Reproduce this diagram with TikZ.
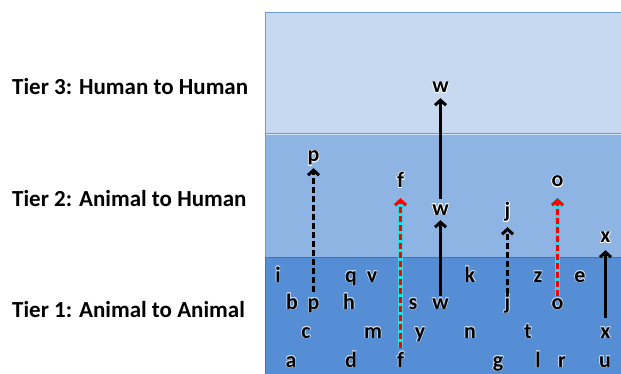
\documentclass[tikz,border=0pt]{standalone}
\usepackage{fontspec}
\setmainfont{Carlito}
\usepackage{contour}
\contourlength{0.6pt}
\usetikzlibrary{arrows.meta}
\definecolor{tierA}{HTML}{558ED5}
\definecolor{tierB}{HTML}{8EB4E3}
\definecolor{tierC}{HTML}{C6D9F1}
\definecolor{edgeA}{HTML}{3A72C4}
\definecolor{edgeB}{HTML}{6E9BDA}
\definecolor{glow}{HTML}{33D6E6}
\tikzset{
  lbl/.style={font=\bfseries\fontsize{22}{22}\selectfont, inner sep=0pt, text height=10.2pt, text depth=0pt, anchor=base},
  tiertxt/.style={font=\bfseries\fontsize{23}{23}\selectfont, inner sep=0pt, anchor=base west},
  tip/.style={-{Straight Barb[length=5pt,width=11pt]}},
  solidarr/.style={tip, line width=3pt, black},
  dasharr/.style={tip, line width=3pt, black, dash pattern=on 6pt off 3pt},
  glowarr/.style={tip, line width=5pt, glow},
  redarr/.style={tip, line width=3pt, red, dash pattern=on 6pt off 3pt},
}
\newcommand{\ltr}[1]{\contour{white!65!tierA}{#1}}
\newcommand{\ltrhi}[1]{\contour{white}{#1}}
\begin{document}
\begin{tikzpicture}[x=1pt,y=-1pt]
\useasboundingbox (0,0) rectangle (621,374);
\fill[white] (0,0) rectangle (621,374);
% bands
\filldraw[fill=tierC, draw=edgeB, line width=0.8pt] (265.5,12) rectangle (625,133);
\filldraw[fill=tierB, draw=edgeB, line width=0.8pt] (265.5,133) rectangle (625,257);
\filldraw[fill=tierA, draw=edgeA, line width=0.8pt] (265.5,257) rectangle (625,378);
\draw[white!60!tierB, line width=0.8pt] (266,134.2) -- (625,134.2);
% tier titles
\node[tiertxt] (t3) at (12,95) {Tier 3: Human to Human};
\node[tiertxt] (t2) at (12,207) {Tier 2: Animal to Human};
\node[tiertxt] (t1) at (12,317) {Tier 1: Animal to Animal};
% tier 3
\node[lbl] (w3) at (440.5,93) {\ltrhi{w}};
% tier 2
\node[lbl] (p2) at (313.5,162) {\ltrhi{p}};
\node[lbl] (f2) at (400.5,188) {\ltrhi{f}};
\node[lbl] (w2) at (440.5,215) {\ltrhi{w}};
\node[lbl] (j2) at (507.5,218) {\ltrhi{j}};
\node[lbl] (o2) at (557.5,187) {\ltrhi{o}};
\node[lbl] (x2) at (605.5,243) {\ltrhi{x}};
% tier 1 row 1
\node[lbl] (i) at (278,282) {\ltr{i}};
\node[lbl] (q) at (351,282) {\ltr{q}};
\node[lbl] (v) at (372,282) {\ltr{v}};
\node[lbl] (k) at (470,282) {\ltr{k}};
\node[lbl] (z) at (538,282) {\ltr{z}};
\node[lbl] (e) at (580,282) {\ltr{e}};
% row 2
\node[lbl] (b) at (292,309) {\ltr{b}};
\node[lbl] (p1) at (313.5,309) {\ltr{p}};
\node[lbl] (h) at (349,309) {\ltr{h}};
\node[lbl] (s) at (413,309) {\ltr{s}};
\node[lbl] (w1) at (440.5,309) {\ltr{w}};
\node[lbl] (j1) at (507.5,309) {\ltr{j}};
\node[lbl] (o1) at (557.5,309) {\ltr{o}};
% row 3
\node[lbl] (c) at (306,338) {\ltr{c}};
\node[lbl] (m) at (373,338) {\ltr{m}};
\node[lbl] (y) at (420,338) {\ltr{y}};
\node[lbl] (n) at (470,338) {\ltr{n}};
\node[lbl] (t) at (528,338) {\ltr{t}};
\node[lbl] (x1) at (605.5,338) {\ltr{x}};
% row 4
\node[lbl] (a) at (291,367) {\ltr{a}};
\node[lbl] (d) at (351,367) {\ltr{d}};
\node[lbl] (f1) at (400.5,367) {\ltr{f}};
\node[lbl] (g) at (498,367) {\ltr{g}};
\node[lbl] (l) at (538,367) {\ltr{l}};
\node[lbl] (r) at (562,367) {\ltr{r}};
\node[lbl] (u) at (605,367) {\ltr{u}};
% arrows
\draw[dasharr, shorten <=7pt, shorten >=6pt] (p1.north) -- (p2.south);
\draw[glowarr, shorten <=9pt, shorten >=9.5pt] (f1.north) -- (f2.south);
\draw[redarr, shorten <=9pt, shorten >=10pt] (f1.north) -- (f2.south);
\draw[solidarr, shorten <=3pt, shorten >=5pt] (w1.north) -- (w2.south);
\draw[solidarr, shorten <=6pt, shorten >=5pt] (w2.north) -- (w3.south);
\draw[dasharr, shorten <=5pt, shorten >=9pt] (j1.north) -- (j2.south);
\draw[glowarr, shorten <=3pt, shorten >=10.5pt] (o1.north) -- (o2.south);
\draw[redarr, shorten <=3pt, shorten >=11pt] (o1.north) -- (o2.south);
\draw[solidarr, shorten <=10pt, shorten >=7pt] (x1.north) -- (x2.south);
\end{tikzpicture}
\end{document}
